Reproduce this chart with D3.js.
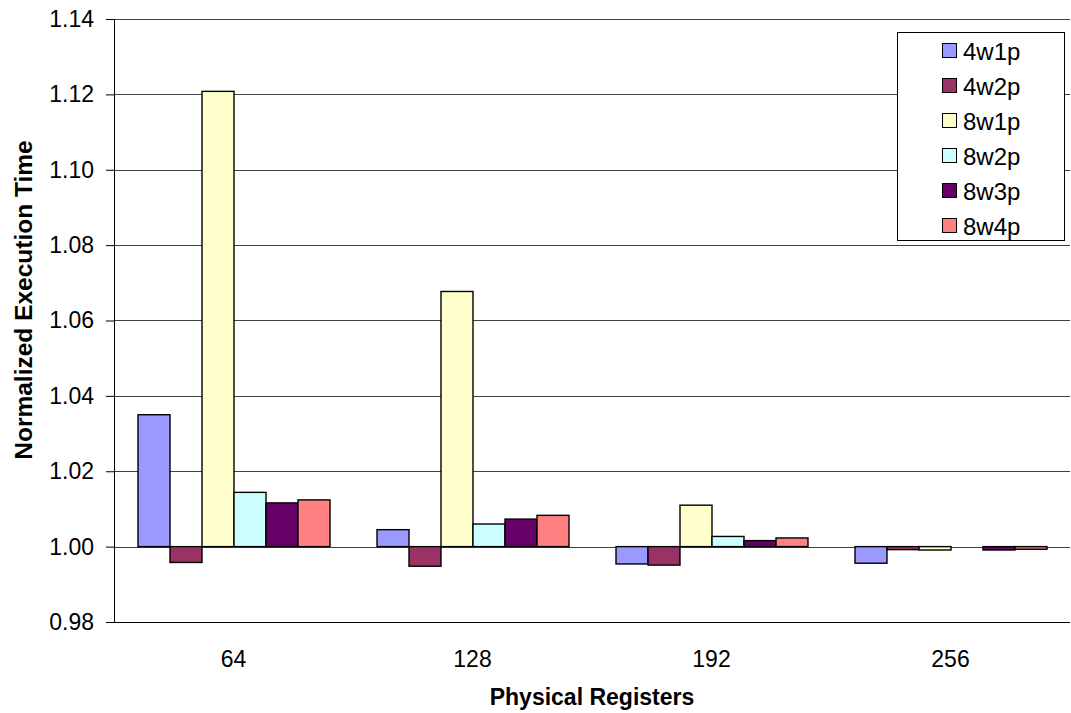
<!DOCTYPE html>
<html>
<head>
<meta charset="utf-8">
<script src="https://cdn.jsdelivr.net/npm/d3@7"></script>
<style>
  body { margin: 0; background: #fff; }
  svg { font-family: "Liberation Sans", Arial, sans-serif; }
</style>
</head>
<body>
<div id="chart"></div>
<script>
// data
const categories = ["64", "128", "192", "256"];
const seriesNames = ["4w1p", "4w2p", "8w1p", "8w2p", "8w3p", "8w4p"];
const seriesColors = ["#9999FF", "#993366", "#FFFFCC", "#CCFFFF", "#660066", "#FF8080"];
const values = {
    "4w1p": [1.035, 1.0045, 0.9954, 0.9956],
    "4w2p": [0.9958, 0.9948, 0.9951, 0.9992],
    "8w1p": [1.1208, 1.0677, 1.011, 0.9991],
    "8w2p": [1.0144, 1.006, 1.0027, 1.0],
    "8w3p": [1.0116, 1.0073, 1.0016, 0.9991],
    "8w4p": [1.0124, 1.0083, 1.0023, 0.9993]
};
const yTicks = [0.98, 1.00, 1.02, 1.04, 1.06, 1.08, 1.10, 1.12, 1.14];

// constants
const width = 1071;
const height = 713;
const plot = { left: 114, right: 1070, top: 19, bottom: 622 };

const svg = d3.select("#chart")
    .append("svg")
    .attr("width", width)
    .attr("height", height);

// scales
const y = d3.scaleLinear()
    .domain([0.98, 1.14])
    .range([plot.bottom, plot.top]);

const x0 = d3.scaleBand()
    .domain(categories)
    .range([plot.left, plot.right]);

const x1 = d3.scaleBand()
    .domain(seriesNames)
    .range([24, x0.bandwidth() - 23]);

// gridlines
svg.append("g")
    .selectAll("line")
    .data(yTicks.slice(1))
    .enter().append("line")
    .attr("x1", plot.left)
    .attr("x2", plot.right)
    .attr("y1", d => Math.round(y(d)) + 0.5)
    .attr("y2", d => Math.round(y(d)) + 0.5)
    .attr("stroke", "#404040")
    .attr("stroke-width", 1.2);

// bars
const groups = svg.append("g")
    .selectAll("g")
    .data(seriesNames)
    .enter().append("g")
    .attr("fill", (d, i) => seriesColors[i]);

groups.selectAll("rect")
    .data(s => values[s].map((v, i) => ({ s: s, cat: categories[i], v: v })))
    .enter().append("rect")
    .attr("x", d => x0(d.cat) + x1(d.s))
    .attr("width", x1.bandwidth())
    .attr("y", d => y(Math.max(d.v, 1)))
    .attr("height", d => Math.abs(y(d.v) - y(1)))
    .attr("stroke", "#000")
    .attr("stroke-width", 1.4);

// y axis
const yAxis = svg.append("g")
    .attr("transform", `translate(${plot.left},0)`)
    .call(d3.axisLeft(y).tickValues(yTicks).tickFormat(d3.format(".2f")).tickSizeOuter(0).tickSize(8).tickPadding(12));
yAxis.select(".domain").attr("stroke", "#000");
yAxis.selectAll("text").attr("font-size", 23).attr("fill", "#000");

// x axis line
svg.append("line")
    .attr("x1", plot.left)
    .attr("x2", plot.right)
    .attr("y1", plot.bottom + 0.5)
    .attr("y2", plot.bottom + 0.5)
    .attr("stroke", "#000");

// category labels
svg.append("g")
    .selectAll("text")
    .data(categories)
    .enter().append("text")
    .attr("x", d => x0(d) + x0.bandwidth() / 2)
    .attr("y", 667)
    .attr("text-anchor", "middle")
    .attr("font-size", 23)
    .text(d => d);

// axis titles
svg.append("text")
    .attr("x", (plot.left + plot.right) / 2)
    .attr("y", 705)
    .attr("text-anchor", "middle")
    .attr("font-size", 23)
    .attr("font-weight", "bold")
    .text("Physical Registers");

svg.append("text")
    .attr("transform", "translate(32,300) rotate(-90)")
    .attr("text-anchor", "middle")
    .attr("font-size", 24.5)
    .attr("font-weight", "bold")
    .text("Normalized Execution Time");

// legend
const legend = svg.append("g");
legend.append("rect")
    .attr("x", 897.5)
    .attr("y", 32.5)
    .attr("width", 167)
    .attr("height", 208)
    .attr("fill", "#fff")
    .attr("stroke", "#000");

const items = legend.selectAll("g")
    .data(seriesNames)
    .enter().append("g")
    .attr("transform", (d, i) => `translate(942,${51 + i * 35})`);

items.append("rect")
    .attr("x", 0.5)
    .attr("y", -7.5)
    .attr("width", 14)
    .attr("height", 14)
    .attr("fill", (d, i) => seriesColors[i])
    .attr("stroke", "#000");

items.append("text")
    .attr("x", 21)
    .attr("y", 9)
    .attr("font-size", 24)
    .text(d => d);
</script>
</body>
</html>
